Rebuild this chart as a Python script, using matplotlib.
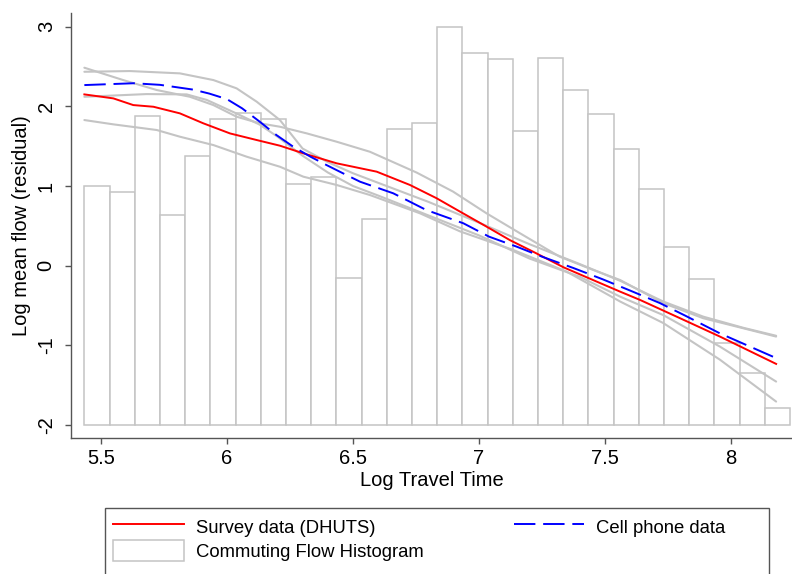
import matplotlib
matplotlib.use("Agg")
import matplotlib.pyplot as plt
import numpy as np
from matplotlib.patches import Patch, Rectangle
from matplotlib.lines import Line2D

plt.rcParams['font.family'] = ['Liberation Sans', 'DejaVu Sans']

# histogram of commuting flows (bar tops, read on the y scale), bins of 0.1 starting at 5.434
bin_start = 5.434
bin_width = 0.1
hist_top = [1.0, 0.93, 1.88, 0.63, 1.38, 1.84, 1.92, 1.84, 1.03, 1.11,
            -0.15, 0.58, 1.72, 1.79, 3.0, 2.67, 2.59, 1.69, 2.61, 2.21,
            1.91, 1.46, 0.96, 0.23, -0.17, -0.97, -1.35, -1.79]
hist_base = -2.0

# survey data (DHUTS)
survey_x = [5.434, 5.549, 5.628, 5.708, 5.813, 5.906, 6.012, 6.118, 6.21, 6.303,
            6.435, 6.594, 6.726, 6.832, 6.925, 7.03, 7.123, 7.215, 7.335, 7.467,
            7.56, 7.639, 7.798, 7.956, 8.179]
survey_y = [2.15, 2.1, 2.016, 1.995, 1.912, 1.787, 1.66, 1.577, 1.506, 1.41,
            1.285, 1.18, 1.013, 0.846, 0.678, 0.49, 0.32, 0.175, -0.02, -0.2,
            -0.326, -0.43, -0.66, -0.89, -1.233]
survey_hi_x = [5.434, 5.588, 5.721, 5.853, 5.946, 6.038, 6.13, 6.21, 6.316, 6.435,
               6.567, 6.753, 6.897, 7.03, 7.163, 7.32, 7.45, 7.56, 7.731, 7.89,
               8.049, 8.179]
survey_hi_y = [2.485, 2.33, 2.205, 2.12, 2.016, 1.87, 1.787, 1.744, 1.661, 1.556,
               1.43, 1.168, 0.93, 0.657, 0.406, 0.113, -0.05, -0.18, -0.47, -0.66,
               -0.786, -0.89]
survey_lo_x = [5.434, 5.549, 5.721, 5.813, 5.946, 6.078, 6.21, 6.303, 6.435, 6.567,
               6.766, 6.925, 7.136, 7.348, 7.56, 7.731, 7.956, 8.179]
survey_lo_y = [1.828, 1.774, 1.703, 1.619, 1.514, 1.368, 1.242, 1.117, 1.013, 0.887,
               0.657, 0.43, 0.197, -0.075, -0.45, -0.72, -1.18, -1.706]

# cell phone data
phone_x = [5.434, 5.63, 5.734, 5.866, 5.93, 6.0, 6.06, 6.13, 6.196, 6.263,
           6.33, 6.395, 6.46, 6.528, 6.66, 6.79, 6.938, 7.04, 7.15, 7.25,
           7.375, 7.49, 7.61, 7.718, 7.82, 7.956, 8.179]
phone_y = [2.267, 2.29, 2.27, 2.21, 2.16, 2.09, 1.975, 1.807, 1.64, 1.493,
           1.37, 1.263, 1.16, 1.054, 0.908, 0.70, 0.532, 0.364, 0.238, 0.113,
           -0.03, -0.17, -0.326, -0.47, -0.63, -0.85, -1.16]
phone_hi_x = [5.434, 5.615, 5.813, 5.946, 6.038, 6.118, 6.21, 6.3, 6.4, 6.5,
              6.6, 6.8, 7.0, 7.2, 7.4, 7.56, 7.731, 7.89, 8.049, 8.179]
phone_hi_y = [2.434, 2.443, 2.414, 2.33, 2.226, 2.058, 1.828, 1.47, 1.30, 1.16,
              1.04, 0.80, 0.54, 0.27, 0.02, -0.19, -0.45, -0.64, -0.78, -0.88]
phone_lo_x = [5.434, 5.681, 5.84, 5.92, 6.038, 6.13, 6.2, 6.3, 6.4, 6.5,
              6.6, 6.8, 7.0, 7.2, 7.4, 7.56, 7.731, 7.956, 8.179]
phone_lo_y = [2.12, 2.154, 2.15, 2.08, 1.91, 1.77, 1.62, 1.38, 1.17, 1.0,
              0.88, 0.63, 0.38, 0.09, -0.14, -0.389, -0.62, -1.016, -1.455]

xticks = [5.5, 6, 6.5, 7, 7.5, 8]
xticklabels = ['5.5', '6', '6.5', '7', '7.5', '8']
yticks = [-2, -1, 0, 1, 2, 3]

fig = plt.figure(figsize=(7.92, 5.74), dpi=100)
ax = fig.add_axes([71 / 792, 1 - 438.3 / 574, 721 / 792, 425 / 574])

grey = '#c4c4c4'
axcol = '#555555'

# histogram bars
lefts = bin_start + bin_width * np.arange(len(hist_top))
heights = np.array(hist_top) - hist_base
ax.bar(lefts, heights, width=bin_width, bottom=hist_base, align='edge',
       facecolor='white', edgecolor=grey, linewidth=1.1, zorder=1)

# confidence bands
for xs, ys in [(survey_hi_x, survey_hi_y), (survey_lo_x, survey_lo_y),
               (phone_hi_x, phone_hi_y), (phone_lo_x, phone_lo_y)]:
    ax.plot(xs, ys, color=grey, lw=1.5, zorder=2, solid_capstyle='round')

ax.plot(survey_x, survey_y, color='red', lw=1.4, zorder=4)
ax.plot(phone_x, phone_y, color='blue', lw=1.4, ls=(0, (11, 4)), zorder=5)

ax.set_xlim(5.381, 8.242)
ax.set_ylim(-2.167, 3.168)
ax.set_xticks(xticks)
ax.set_xticklabels(xticklabels)
ax.set_yticks(yticks)
ax.set_yticklabels([str(v) for v in yticks])

for s in ['top', 'right']:
    ax.spines[s].set_visible(False)
for s in ['left', 'bottom']:
    ax.spines[s].set_color(axcol)
    ax.spines[s].set_linewidth(1.0)

ax.tick_params(axis='both', colors=axcol, labelcolor='black', length=4,
               width=1.0, labelsize=14.5)
ax.tick_params(axis='x', pad=4)
ax.tick_params(axis='y', pad=7)
plt.setp(ax.get_yticklabels(), rotation=90, va='center', ha='right')

ax.set_xlabel('Log Travel Time', fontsize=14.5, labelpad=2)
ax.set_ylabel('Log mean flow (residual)', fontsize=14.5, labelpad=4)

# legend box runs off the bottom of the figure, as in the original
fig.add_artist(Rectangle((105 / 792, -0.05), (768.7 - 105) / 792,
                         (1 - 507.7 / 574) + 0.05, transform=fig.transFigure,
                         fill=True, facecolor='white', edgecolor=axcol, lw=1.0))

handles = [Line2D([], [], color='red', lw=1.4),
           Patch(facecolor='white', edgecolor=grey, linewidth=1.1),
           Line2D([], [], color='blue', lw=1.4, ls=(0, (11, 4)))]
labels = ['Survey data (DHUTS)', 'Commuting Flow Histogram', 'Cell phone data']
leg = fig.legend(handles, labels, ncol=2, loc='upper left',
                 bbox_to_anchor=(105 / 792, 1 - 507.7 / 574),
                 borderaxespad=0, fontsize=13.3, handlelength=3.8,
                 handleheight=1.35, handletextpad=0.65, columnspacing=4.9,
                 labelspacing=0.2, borderpad=0.45, frameon=False)

fig.savefig('out.png', dpi=100)
